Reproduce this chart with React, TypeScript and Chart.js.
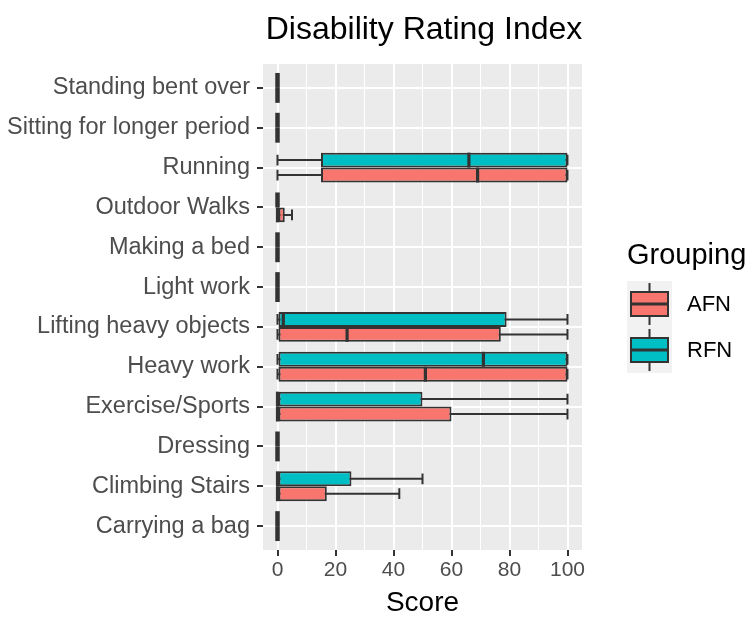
import React, { useEffect, useRef } from 'react';
import { Chart, registerables } from 'chart.js';
Chart.register(...registerables);

const categories = [
  'Standing bent over',
  'Sitting for longer period',
  'Running',
  'Outdoor Walks',
  'Making a bed',
  'Light work',
  'Lifting heavy objects',
  'Heavy work',
  'Exercise/Sports',
  'Dressing',
  'Climbing Stairs',
  'Carrying a bag',
];

const groups = ['AFN', 'RFN'];
const groupColors = ['#F8766D', '#00BFC4'];

const afnMin = [0, 0, 0, 0, 0, 0, 0, 0, 0, 0, 0, 0];
const afnQ1 = [0, 0, 15, 0, 0, 0, 0, 0, 0, 0, 0, 0];
const afnMed = [0, 0, 69, 0, 0, 0, 24, 51, 0, 0, 0, 0];
const afnQ3 = [0, 0, 100, 2.5, 0, 0, 77, 100, 60, 0, 17, 0];
const afnMax = [0, 0, 100, 5, 0, 0, 100, 100, 100, 0, 42, 0];

const rfnMin = [0, 0, 0, 0, 0, 0, 0, 0, 0, 0, 0, 0];
const rfnQ1 = [0, 0, 15, 0, 0, 0, 0, 0, 0, 0, 0, 0];
const rfnMed = [0, 0, 66, 0, 0, 0, 2, 71, 0, 0, 0, 0];
const rfnQ3 = [0, 0, 100, 0, 0, 0, 79, 100, 50, 0, 25.5, 0];
const rfnMax = [0, 0, 100, 0, 0, 0, 100, 100, 100, 0, 50, 0];

const xTickValues = [0, 10, 20, 30, 40, 50, 60, 70, 80, 90, 100];

const FONT = '"Liberation Sans", Arial, sans-serif';
const DARK = '#333333';
const LW = 2;

type Stats = { min: number[]; q1: number[]; med: number[]; q3: number[]; max: number[] };
// dataset order: RFN first (drawn on top within each category), AFN second
const stats: Stats[] = [
  { min: rfnMin, q1: rfnQ1, med: rfnMed, q3: rfnQ3, max: rfnMax },
  { min: afnMin, q1: afnQ1, med: afnMed, q3: afnQ3, max: afnMax },
];

const boxPlugin = {
  id: 'boxplotExtras',
  beforeDraw(chart: any) {
    const { ctx, chartArea } = chart;
    ctx.save();
    ctx.fillStyle = '#EBEBEB';
    ctx.fillRect(chartArea.left, chartArea.top, chartArea.right - chartArea.left, chartArea.bottom - chartArea.top);
    ctx.restore();
  },
  beforeDatasetsDraw(chart: any) {
    const { ctx } = chart;
    const xs = chart.scales.x;
    ctx.save();
    ctx.strokeStyle = DARK;
    ctx.lineWidth = LW;
    stats.forEach((s, di) => {
      const meta = chart.getDatasetMeta(di);
      meta.data.forEach((el: any, j: number) => {
        const y = el.y;
        const h = el.height;
        const x0 = xs.getPixelForValue(s.min[j]);
        const x1 = xs.getPixelForValue(s.max[j]);
        const cap = h * 0.36;
        ctx.beginPath();
        ctx.moveTo(x0, y);
        ctx.lineTo(x1, y);
        ctx.moveTo(x0, y - cap);
        ctx.lineTo(x0, y + cap);
        ctx.moveTo(x1, y - cap);
        ctx.lineTo(x1, y + cap);
        ctx.stroke();
      });
    });
    ctx.restore();
  },
  afterDatasetsDraw(chart: any) {
    const { ctx } = chart;
    const xs = chart.scales.x;
    ctx.save();
    ctx.strokeStyle = DARK;
    stats.forEach((s, di) => {
      const meta = chart.getDatasetMeta(di);
      meta.data.forEach((el: any, j: number) => {
        const y = el.y;
        const h = el.height;
        const xm = xs.getPixelForValue(s.med[j]);
        const zero = s.q1[j] === s.q3[j];
        ctx.lineWidth = zero ? 4.5 : 3.2;
        ctx.beginPath();
        ctx.moveTo(xm, y - h / 2);
        ctx.lineTo(xm, y + h / 2);
        ctx.stroke();
      });
    });
    ctx.restore();
  },
  afterDraw(chart: any) {
    const { ctx, chartArea } = chart;
    const cx = (chartArea.left + chartArea.right) / 2;
    ctx.save();
    ctx.fillStyle = '#000000';
    ctx.textAlign = 'center';
    ctx.textBaseline = 'middle';
    ctx.font = `32px ${FONT}`;
    ctx.fillText('Disability Rating Index', cx + 1.5, 30);
    ctx.font = `28px ${FONT}`;
    ctx.fillText('Score', cx, 603);

    // legend
    ctx.textAlign = 'left';
    ctx.font = `29px ${FONT}`;
    ctx.fillText('Grouping', 627, 256);
    const keyX = 627;
    const keyW = 45;
    const keyH = 46;
    const keyTop = 281;
    groups.forEach((g, i) => {
      const top = keyTop + i * keyH;
      ctx.fillStyle = '#F2F2F2';
      ctx.fillRect(keyX, top, keyW, keyH);
      const cy = top + keyH / 2;
      const bx0 = keyX + 4;
      const bx1 = keyX + keyW - 4;
      const bh = 24;
      ctx.strokeStyle = DARK;
      ctx.lineWidth = LW;
      ctx.beginPath();
      ctx.moveTo(keyX + keyW / 2, top + 2);
      ctx.lineTo(keyX + keyW / 2, top + keyH - 2);
      ctx.stroke();
      ctx.fillStyle = groupColors[i];
      ctx.fillRect(bx0, cy - bh / 2, bx1 - bx0, bh);
      ctx.strokeRect(bx0, cy - bh / 2, bx1 - bx0, bh);
      ctx.lineWidth = 3;
      ctx.beginPath();
      ctx.moveTo(bx0, cy);
      ctx.lineTo(bx1, cy);
      ctx.stroke();
      ctx.fillStyle = '#000000';
      ctx.font = `22px ${FONT}`;
      ctx.fillText(g, 687, cy + 1);
    });
    ctx.restore();
  },
};

export default function App() {
  const ref = useRef<HTMLCanvasElement | null>(null);
  useEffect(() => {
    if (!ref.current) return;
    const datasets = stats.map((s, di) => ({
      label: di === 0 ? 'RFN' : 'AFN',
      data: categories.map((_, j) => ({ x: [s.q1[j], s.q3[j]], y: j })),
      backgroundColor: di === 0 ? groupColors[1] : groupColors[0],
      borderColor: DARK,
      borderWidth: LW,
      borderSkipped: false,
      categoryPercentage: 0.75,
      barPercentage: 1,
    }));
    const chart = new Chart(ref.current, {
      type: 'bar',
      data: { datasets } as any,
      options: {
        indexAxis: 'y',
        animation: false,
        responsive: false,
        maintainAspectRatio: false,
        layout: { padding: { top: 64, right: 169, bottom: 0, left: 0 } },
        plugins: {
          legend: { display: false },
          tooltip: { enabled: false },
          title: { display: false },
        },
        scales: {
          x: {
            type: 'linear',
            min: -5,
            max: 105,
            afterBuildTicks: (s: any) => {
              s.ticks = xTickValues.map((v) => ({ value: v }));
            },
            afterFit: (s: any) => {
              s.height = 69;
            },
            border: { display: false },
            grid: {
              color: '#FFFFFF',
              lineWidth: (c: any) => (c.tick && c.tick.value % 20 === 0 ? 2 : 1),
              tickColor: (c: any) => (c.tick && c.tick.value % 20 === 0 ? DARK : 'rgba(0,0,0,0)'),
              tickLength: 6,
              tickWidth: LW,
            },
            ticks: {
              autoSkip: false,
              maxRotation: 0,
              color: '#4D4D4D',
              font: { size: 21, family: FONT },
              padding: 2,
              callback: (v: any) => (Number(v) % 20 === 0 ? String(v) : ''),
            },
          },
          y: {
            type: 'linear',
            reverse: true,
            offset: false,
            min: -0.6,
            max: 11.6,
            afterBuildTicks: (s: any) => {
              s.ticks = categories.map((_, i) => ({ value: i }));
            },
            afterFit: (s: any) => {
              s.width = 263;
            },
            border: { display: false },
            grid: {
              offset: false,
              color: '#FFFFFF',
              lineWidth: 2,
              tickColor: DARK,
              tickLength: 6,
              tickWidth: LW,
            },
            ticks: {
              autoSkip: false,
              color: '#4D4D4D',
              font: { size: 23.5, family: FONT },
              padding: 7,
              callback: (v: any) => categories[Number(v)] ?? '',
            },
          },
        },
      } as any,
      plugins: [boxPlugin],
    });
    return () => chart.destroy();
  }, []);
  return (
    <div style={{ position: 'fixed', left: 0, top: 0, width: 751, height: 619, background: '#FFFFFF' }}>
      <canvas ref={ref} width={751} height={619} style={{ width: 751, height: 619 }} />
    </div>
  );
}
